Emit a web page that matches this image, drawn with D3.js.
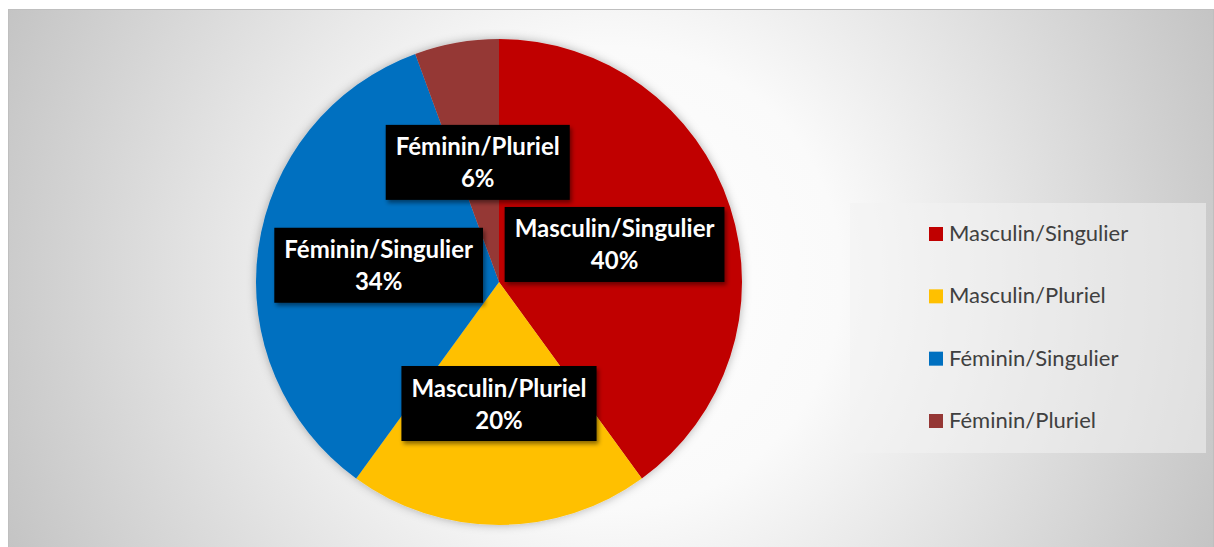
<!DOCTYPE html>
<html>
<head>
<meta charset="utf-8">
<script src="https://d3js.org/d3.v7.min.js"></script>
<style>
  body { margin: 0; background: #fff; }
  svg { display: block; }
</style>
</head>
<body>
<svg id="chart" width="1214" height="547"></svg>
<script>
var categories = ['Masculin/Singulier', 'Masculin/Pluriel', 'Féminin/Singulier', 'Féminin/Pluriel'];
var values = [40, 20, 34.4, 5.6];
var colors = ['#C00000', '#FFC000', '#0070C0', '#953735'];

var totalW = 1214;
var totalH = 547;
var cx = 499, cy = 282, R = 243;
var labelFont = 'Lato, "Open Sans", sans-serif';

var svg = d3.select('#chart');
var defs = svg.append('defs');

// background gradient, circular, white near the middle
var grad = defs.append('radialGradient')
    .attr('id', 'bg')
    .attr('gradientUnits', 'userSpaceOnUse')
    .attr('cx', 611).attr('cy', 278).attr('r', 660);
grad.append('stop').attr('offset', 0).attr('stop-color', '#ffffff');
grad.append('stop').attr('offset', 0.35).attr('stop-color', '#fafafa');
grad.append('stop').attr('offset', 1).attr('stop-color', '#c4c4c4');

var glow = defs.append('filter').attr('id', 'glow')
    .attr('x', '-10%').attr('y', '-10%').attr('width', '120%').attr('height', '120%');
glow.append('feDropShadow').attr('dx', 0).attr('dy', 0).attr('stdDeviation', 5)
    .attr('flood-color', '#000').attr('flood-opacity', 0.3);

var shadow = defs.append('filter').attr('id', 'shadow')
    .attr('x', '-10%').attr('y', '-20%').attr('width', '125%').attr('height', '150%');
shadow.append('feDropShadow').attr('dx', 2).attr('dy', 3).attr('stdDeviation', 2)
    .attr('flood-color', '#000').attr('flood-opacity', 0.45);

svg.append('rect')
    .attr('x', 8.5).attr('y', 9.5)
    .attr('width', totalW - 9).attr('height', totalH - 9)
    .attr('fill', 'url(#bg)')
    .attr('stroke', '#bfbfbf').attr('stroke-width', 1);

var pie = d3.pie().sort(null).value(function(d) { return d; });
var arcs = pie(values);
var arc = d3.arc().innerRadius(0).outerRadius(R);

var gPie = svg.append('g')
    .attr('class', 'pie')
    .attr('transform', 'translate(' + cx + ',' + cy + ')');

gPie.append('g').attr('filter', 'url(#glow)')
    .selectAll('path')
    .data(arcs)
    .enter()
    .append('path')
    .attr('d', arc)
    .attr('fill', function(d, i) { return colors[i]; });

// data labels: black boxes at the arc centroid
var gLabels = gPie.append('g').attr('class', 'labels');
arcs.forEach(function(d, i) {
    var c = arc.centroid(d);
    var g = gLabels.append('g').attr('transform', 'translate(' + c[0] + ',' + c[1] + ')');
    var box = g.append('rect').attr('fill', '#000').attr('filter', 'url(#shadow)');
    var t = g.append('text')
        .attr('text-anchor', 'middle')
        .attr('fill', '#fff')
        .attr('font-family', labelFont)
        .attr('font-weight', 'bold')
        .attr('font-size', 24);
    t.append('tspan').attr('x', 0).attr('y', -7).text(categories[i]);
    t.append('tspan').attr('x', 0).attr('y', 25).text(Math.round(values[i]) + '%');
    var w = t.node().getBBox().width + 20;
    var h = 75;
    box.attr('x', -w / 2).attr('y', -h / 2).attr('width', w).attr('height', h);
});

// legend
var gLegend = svg.append('g').attr('class', 'legend');
gLegend.append('rect')
    .attr('x', 850).attr('y', 203)
    .attr('width', 356).attr('height', 250)
    .attr('fill', '#f2f2f2').attr('fill-opacity', 0.55);

var rowY = d3.scalePoint().domain(categories).range([234, 421]);

var items = gLegend.selectAll('g.item')
    .data(categories)
    .enter()
    .append('g')
    .attr('class', 'item')
    .attr('transform', function(d) { return 'translate(929,' + rowY(d) + ')'; });

items.append('rect')
    .attr('x', 0).attr('y', -7)
    .attr('width', 14).attr('height', 14)
    .attr('fill', function(d, i) { return colors[i]; });

items.append('text')
    .attr('x', 20).attr('y', 7)
    .attr('fill', '#404040')
    .attr('font-family', labelFont)
    .attr('font-size', 22)
    .text(function(d) { return d; });
</script>
</body>
</html>
